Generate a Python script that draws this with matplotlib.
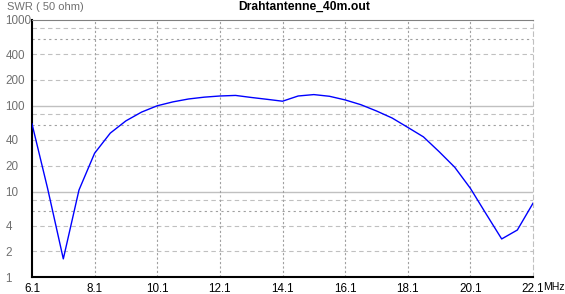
import matplotlib
matplotlib.use("Agg")
import matplotlib.pyplot as plt
import matplotlib.ticker as mticker

# frequency (MHz) and SWR
freq = [6.1, 6.6, 7.1, 7.6, 8.1, 8.6, 9.1, 9.6, 10.1, 10.6, 11.1, 11.6,
        12.1, 12.6, 13.1, 13.6, 14.1, 14.6, 15.1, 15.6, 16.1, 16.6, 17.1,
        17.6, 18.1, 18.6, 19.1, 19.6, 20.1, 20.6, 21.1, 21.6, 22.1]
swr = [61.5, 10.8, 1.64, 10.4, 28.0, 48.0, 66.7, 84.4, 100.0, 111.0, 120.0,
       126.0, 130.0, 132.0, 125.0, 119.0, 113.0, 130.0, 135.0, 129.0, 117.0,
       103.0, 87.0, 72.0, 56.0, 43.4, 29.2, 19.2, 10.9, 5.5, 2.8, 3.56, 7.3]

yticks = [1, 2, 4, 10, 20, 40, 100, 200, 400, 1000]
ytick_labels = ["1", "2", "4", "10", "20", "40", "100", "200", "400", "1000"]
xticks = [6.1, 8.1, 10.1, 12.1, 14.1, 16.1, 18.1, 20.1, 22.1]
xtick_labels = ["6.1", "8.1", "10.1", "12.1", "14.1", "16.1", "18.1", "20.1", "22.1"]
dash_lines = [2, 4, 8, 20, 40, 80, 200, 400, 800]
dot_lines = [6, 60, 600]
solid_lines = [10, 100]

W, H = 565, 294
fig = plt.figure(figsize=(W / 100, H / 100), dpi=100)
ax = fig.add_axes([32 / W, (H - 277.3) / H, (533 - 32) / W, (277.3 - 20) / H])
ax.set_yscale("log")
ax.set_xlim(6.1, 22.1)
ax.set_ylim(1, 1000)

for v in dash_lines:
    ax.axhline(v, color="#c0c0c0", lw=0.8, ls=(0, (4, 3)), zorder=1)
for v in dot_lines:
    ax.axhline(v, color="#a0a0a0", lw=0.8, ls=(0, (2, 3)), zorder=1)
for v in solid_lines:
    ax.axhline(v, color="#c0c0c0", lw=1.0, zorder=1)
for v in xticks[1:-1]:
    ax.axvline(v, color="#a0a0a0", lw=0.8, ls=(0, (2, 2)), zorder=1)

ax.plot(freq, swr, color="#0000ff", lw=1.0, zorder=3)

for s in ["left", "bottom"]:
    ax.spines[s].set_color("black")
    ax.spines[s].set_linewidth(1.5)
ax.spines["top"].set_color("#808080")
ax.spines["top"].set_linestyle((0, (1, 1)))
ax.spines["top"].set_linewidth(0.8)
ax.spines["right"].set_color("#c0c0c0")
ax.spines["right"].set_linestyle((0, (4, 3)))
ax.spines["right"].set_linewidth(0.8)

font = "Liberation Sans"
ax.set_yticks(yticks)
ax.set_yticklabels(ytick_labels, fontsize=8.4, color="#707070", family=font, ha="left")
ax.yaxis.set_minor_locator(mticker.NullLocator())
ax.tick_params(axis="y", length=0, pad=19)

ax.set_xticks(xticks)
ax.set_xticklabels(xtick_labels, fontsize=8.4, color="black", family=font)
ax.tick_params(axis="x", length=0, pad=4)
fig.text(543.5 / W, 1 - 287 / H, "MHz", ha="left", va="center",
         fontsize=7.6, color="black", family=font)

fig.text(304 / W, 1 - 6.5 / H, "Drahtantenne_40m.out", ha="center", va="center",
         fontsize=8.7, fontweight="bold", family=font, color="black")
fig.text(7 / W, 1 - 7.5 / H, "SWR ( 50 ohm)", ha="left", va="center",
         fontsize=8.0, color="#707070", family=font)

fig.savefig("out.png", dpi=100)
